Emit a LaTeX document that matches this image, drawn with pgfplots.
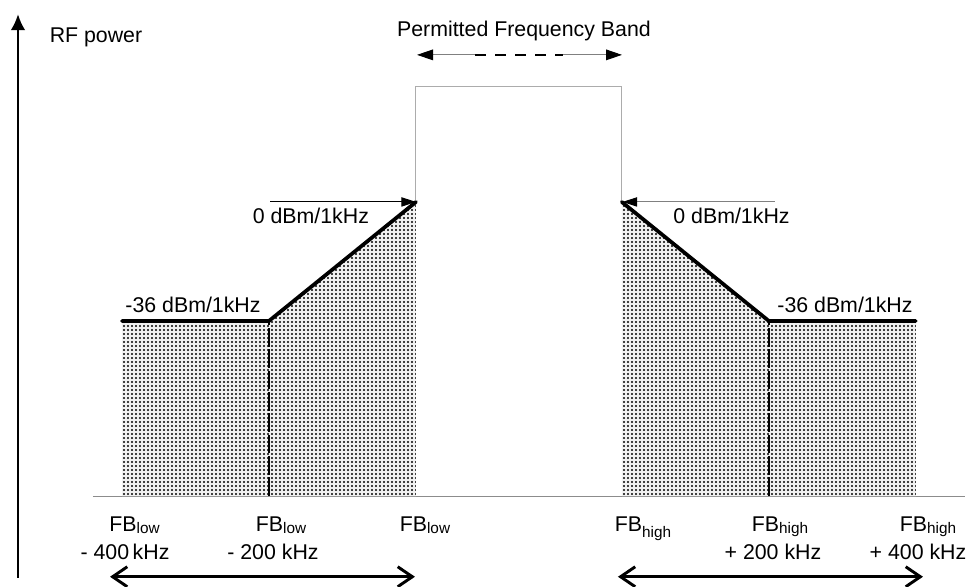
\documentclass[border=0pt]{standalone}
\usepackage{pgfplots}
\pgfplotsset{compat=1.18}
\usepackage{fontspec}
\setmainfont{Liberation Sans}
\usetikzlibrary{arrows.meta,patterns.meta}

% sub-labels for the band edges
\newcommand{\sub}[2]{\raisebox{#1}{\fontsize{11.5}{12}\selectfont #2}}
\tikzset{lbl/.style={font=\fontsize{16}{19}\selectfont, inner sep=0pt, anchor=base}}

\begin{document}
\begin{tikzpicture}
\begin{axis}[
    scale only axis, width=725.25pt, height=439.5pt,
    xmin=-566, xmax=749.7, ymin=-116.2, ymax=61.1,
    hide axis, clip=false,
]
\coordinate (bl) at (rel axis cs:0,0);
\coordinate (tr) at (rel axis cs:1,1);

% baseline
\addplot[gray!90, line width=0.75pt] coordinates {(-439.5,-89) (747,-89)};

% lower mask (x = kHz from FB_low, y = dBm/1kHz)
\addplot[draw=none, fill=gray!10] coordinates {(-400,-89) (-400,-36) (-200,-36) (0,0) (0,-89)} -- cycle;
\addplot[draw=none, pattern={Dots[distance=3pt, radius=0.8pt]}] coordinates {(-400,-89) (-400,-36) (-200,-36) (0,0) (0,-89)} -- cycle;
% upper mask (band edge FB_high at 280)
\addplot[draw=none, fill=gray!10] coordinates {(280,-89) (280,0) (480,-36) (680,-36) (680,-89)} -- cycle;
\addplot[draw=none, pattern={Dots[distance=3pt, radius=0.8pt]}] coordinates {(280,-89) (280,0) (480,-36) (680,-36) (680,-89)} -- cycle;

% dashed dividers
\addplot[black, line width=1.2pt, dash pattern=on 14pt off 2pt] coordinates {(-200,-89) (-200,-36)};
\addplot[black, line width=1.2pt, dash pattern=on 14pt off 2pt] coordinates {(480,-89) (480,-36)};

% permitted band
\addplot[gray!65, line width=0.75pt] coordinates {(0,0) (0,35) (280,35) (280,0)};

% mask limits
\addplot[black, line width=2.8pt, line cap=round] coordinates {(-400,-36) (-200,-36) (0,0)};
\addplot[black, line width=2.8pt, line cap=round] coordinates {(280,0) (480,-36) (680,-36)};

% 0 dBm pointers
\addplot[black, line width=0.75pt, -{Triangle[length=11pt,width=7pt]}] coordinates {(-198.6,0) (0,0)};
\addplot[gray, line width=0.75pt, -{Triangle[length=11pt,width=7pt,black]}] coordinates {(488.4,0) (281,0)};

% band arrow
\addplot[gray, line width=0.75pt, {Triangle[length=12pt,width=8pt,black]}-] coordinates {(1.4,44.5) (80.3,44.5)};
\addplot[black, line width=1.6pt, dash pattern=on 8.25pt off 6.75pt] coordinates {(80.3,44.5) (200,44.5)};
\addplot[gray, line width=0.75pt, -{Triangle[length=12pt,width=8pt,black]}] coordinates {(200,44.5) (280.3,44.5)};

% power axis
\addplot[black, line width=1.5pt, -{Latex[length=12pt,width=11pt]}] coordinates {(-541.5,-113.7) (-541.5,56.8)};

% span arrows
\addplot[black, line width=2.2pt, {Straight Barb[length=11pt,width=15pt]}-{Straight Barb[length=11pt,width=15pt]}] coordinates {(-416.3,-113.4) (-1.4,-113.4)};
\addplot[black, line width=2.2pt, {Straight Barb[length=11pt,width=15pt]}-{Straight Barb[length=11pt,width=15pt]}] coordinates {(274.8,-113.4) (689.8,-113.4)};

% texts
\node[lbl] at (axis cs:-435.4,48.1) {RF power};
\node[lbl] at (axis cs:146.9,50.2) {Permitted Frequency Band};
\node[lbl] at (axis cs:-143,-6.65) {0 dBm/1kHz};
\node[lbl] at (axis cs:429.3,-6.65) {0 dBm/1kHz};
\node[lbl] at (axis cs:-303.4,-33.3) {-36 dBm/1kHz};
\node[lbl] at (axis cs:583.7,-33.3) {-36 dBm/1kHz};

\node[lbl] at (axis cs:-383,-99.8) {FB\sub{-1.5pt}{low}};
\node[lbl] at (axis cs:-395.9,-108.3) {- 400\,kHz};
\node[lbl] at (axis cs:-183.7,-99.8) {FB\sub{-1.5pt}{low}};
\node[lbl] at (axis cs:-194.6,-108.3) {- 200 kHz};
\node[lbl] at (axis cs:12.2,-99.8) {FB\sub{-1.5pt}{low}};
\node[lbl] at (axis cs:308.8,-99.8) {FB\sub{-4pt}{high}};
\node[lbl] at (axis cs:495.2,-99.8) {FB\sub{-1pt}{high}};
\node[lbl] at (axis cs:485.7,-108.3) {+ 200 kHz};
\node[lbl] at (axis cs:696.6,-99.8) {FB\sub{-1pt}{high}};
\node[lbl] at (axis cs:683,-108.3) {+ 400 kHz};
\end{axis}
\pgfresetboundingbox
\path (bl) rectangle (tr);
\end{tikzpicture}
\end{document}
